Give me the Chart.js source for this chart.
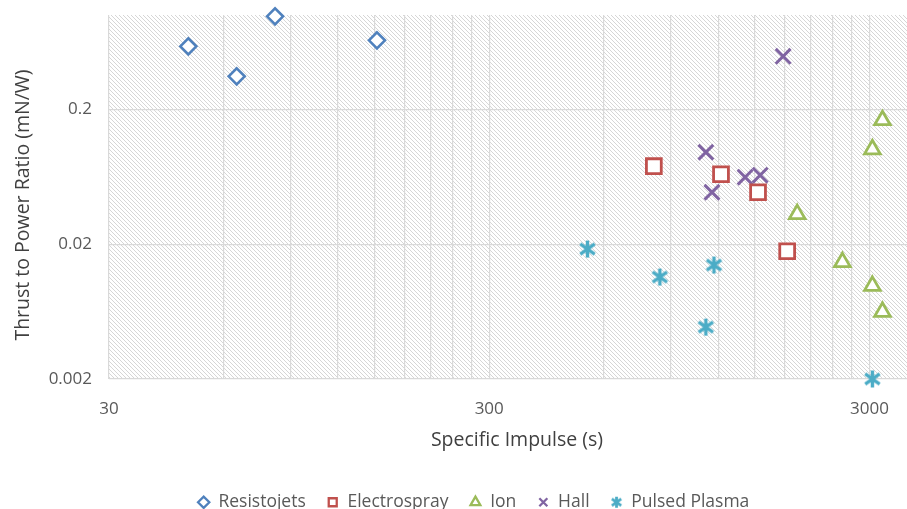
<!DOCTYPE html>
<html>
<head>
<meta charset="utf-8">
<script src="https://cdn.jsdelivr.net/npm/chart.js@4/dist/chart.umd.min.js"></script>
<style>
  body { margin: 0; background: #fff; }
  #wrap { width: 907px; height: 509px; }
</style>
</head>
<body>
<div id="wrap"><canvas id="chart"></canvas></div>
<script>
// values
const seriesNames = ['Resistojets', 'Electrospray', 'Ion', 'Hall', 'Pulsed Plasma'];

const resistoIsp = [48.5, 65, 82, 152];
const resistoTp  = [0.586, 0.351, 0.977, 0.649];

const esprayIsp = [813, 1221, 1528, 1823];
const esprayTp  = [0.0757, 0.066, 0.0485, 0.0177];

const ionIsp = [3246, 3054, 1937, 2547, 3054, 3246];
const ionTp  = [0.166, 0.101, 0.0334, 0.0147, 0.0098, 0.0063];

const hallIsp = [1779, 1114, 1413, 1548, 1156];
const hallTp  = [0.494, 0.096, 0.0627, 0.0649, 0.0485];

const ppIsp = [544, 1170, 843, 1114, 3054];
const ppTp  = [0.0184, 0.014, 0.0114, 0.00485, 0.002];

// axis ticks (Excel log axis, minor lines at multiples of the base)
const xLabelTicks = [30, 300, 3000];
const xGridTicks = [30, 60, 90, 120, 150, 180, 210, 240, 270,
                    300, 600, 900, 1200, 1500, 1800, 2100, 2400, 2700, 3000];
const yLabelTicks = [0.002, 0.02, 0.2];

const colors = ['#4F81BD', '#C0504D', '#9BBB59', '#8064A2', '#4BACC6'];

const pts = (xs, ys) => xs.map((x, i) => ({ x: x, y: ys[i] }));

// Excel style asterisk marker (X plus vertical bar)
function starMarker(size, lw, color) {
  const c = document.createElement('canvas');
  c.width = size; c.height = size;
  const g = c.getContext('2d');
  const m = size / 2, r = size / 2 - 1;
  g.strokeStyle = color;
  g.lineWidth = lw;
  g.beginPath();
  g.moveTo(m, m - r); g.lineTo(m, m + r);
  const dx = r * 0.85, dy = r * 0.6;
  g.moveTo(m - dx, m - dy); g.lineTo(m + dx, m + dy);
  g.moveTo(m + dx, m - dy); g.lineTo(m - dx, m + dy);
  g.stroke();
  return c;
}
const starBig = starMarker(19, 3.4, colors[4]);
const starSmall = starMarker(13, 2.8, colors[4]);

// light downward diagonal fill of the plot area
function hatchPattern(ctx) {
  const t = document.createElement('canvas');
  t.width = 4; t.height = 4;
  const g = t.getContext('2d');
  g.fillStyle = '#fff';
  g.fillRect(0, 0, 4, 4);
  g.fillStyle = '#d6d6d6';
  for (let i = 0; i < 4; i++) g.fillRect(i, i, 1, 1);
  return ctx.createPattern(t, 'repeat');
}

const plotBackground = {
  id: 'plotBackground',
  beforeDraw(chart) {
    const { ctx, chartArea } = chart;
    ctx.save();
    ctx.fillStyle = hatchPattern(ctx);
    ctx.fillRect(chartArea.left, chartArea.top,
      chartArea.right - chartArea.left, chartArea.bottom - chartArea.top);
    ctx.restore();
  }
};

// the original plot runs past the right edge of the picture,
// so stretch the x scale beyond the canvas; nudge the y title down a bit
const cropAxes = {
  id: 'cropAxes',
  afterLayout(chart) {
    const x = chart.scales.x;
    x.right = chart.width + 18;
    x.width = x.right - x.left;
    x.configure();
    const y = chart.scales.y;
    y.top += 8;
    y.bottom += 8;
  }
};

const fontFamily = '"Open Sans", "Noto Sans", sans-serif';

const noPadding = scale => {
  scale.paddingTop = 0; scale.paddingBottom = 0;
  scale.paddingLeft = 0; scale.paddingRight = 0;
};

const datasets = [
  { label: seriesNames[0], data: pts(resistoIsp, resistoTp), pointStyle: 'rectRot', pointRadius: 8, pointBorderWidth: 2.6 },
  { label: seriesNames[1], data: pts(esprayIsp, esprayTp), pointStyle: 'rect', pointRadius: 10.5, pointBorderWidth: 2.8 },
  { label: seriesNames[2], data: pts(ionIsp, ionTp), pointStyle: 'triangle', pointRadius: 9, pointBorderWidth: 2.8 },
  { label: seriesNames[3], data: pts(hallIsp, hallTp), pointStyle: 'crossRot', pointRadius: 10.5, pointBorderWidth: 3 },
  { label: seriesNames[4], data: pts(ppIsp, ppTp), pointStyle: starBig, pointRadius: 9, pointBorderWidth: 2.5 }
].map((d, i) => Object.assign(d, {
  borderColor: colors[i],
  backgroundColor: '#ffffff',
  pointBackgroundColor: '#ffffff',
  pointBorderColor: colors[i],
  borderWidth: d.pointBorderWidth,
  pointHoverRadius: d.pointRadius,
  showLine: false,
  clip: false
}));

new Chart(document.getElementById('chart'), {
  type: 'scatter',
  data: { datasets },
  plugins: [plotBackground, cropAxes],
  options: {
    responsive: true,
    maintainAspectRatio: false,
    animation: false,
    layout: { autoPadding: false, padding: { top: 15, right: -18, left: 22, bottom: -12 } },
    plugins: {
      tooltip: { enabled: false },
      legend: {
        position: 'bottom',
        labels: {
          usePointStyle: true,
          boxWidth: 12,
          boxHeight: 8,
          padding: 21,
          color: '#595959',
          font: { family: fontFamily, size: 17.5 },
          generateLabels(chart) {
            const items = Chart.defaults.plugins.legend.labels.generateLabels(chart);
            items.forEach(it => {
              if (it.datasetIndex === 4) it.pointStyle = starSmall;
              it.lineWidth = 2.3;
            });
            return items;
          }
        }
      }
    },
    scales: {
      x: {
        type: 'logarithmic',
        min: 30,
        max: 4200,
        afterBuildTicks(scale) {
          scale.ticks = xGridTicks.map(v => ({ value: v, major: xLabelTicks.includes(v) }));
        },
        afterFit(scale) { scale.height = 93.5; noPadding(scale); },
        ticks: {
          autoSkip: false,
          maxRotation: 0,
          padding: 19.5,
          color: '#595959',
          font: { family: fontFamily, size: 17 },
          callback: v => (xLabelTicks.includes(v) ? String(v) : '')
        },
        grid: { color: '#d9d9d9', lineWidth: 1.2, drawTicks: false },
        border: { display: false },
        title: {
          display: true,
          text: 'Specific Impulse (s)',
          color: '#404040',
          font: { family: fontFamily, size: 19.5 },
          padding: { top: 0, bottom: 20 }
        }
      },
      y: {
        type: 'logarithmic',
        min: 0.002,
        max: 1,
        afterBuildTicks(scale) {
          scale.ticks = yLabelTicks.map(v => ({ value: v, major: true }));
        },
        afterFit(scale) { scale.width = 87; noPadding(scale); },
        ticks: {
          padding: 17,
          color: '#595959',
          font: { family: fontFamily, size: 17 },
          callback: v => String(v)
        },
        grid: { color: '#d9d9d9', lineWidth: 1.2, drawTicks: false },
        border: { display: false },
        title: {
          display: true,
          text: 'Thrust to Power Ratio (mN/W)',
          color: '#404040',
          font: { family: fontFamily, size: 19.5 },
          padding: { top: -10, bottom: 0 }
        }
      }
    }
  }
});
</script>
</body>
</html>
